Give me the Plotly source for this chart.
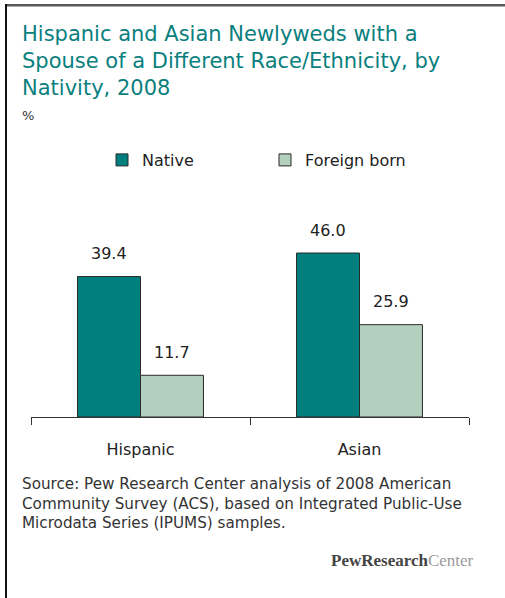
import plotly.graph_objects as go

categories = ["Hispanic", "Asian"]
native = [39.4, 46.0]
foreign_born = [11.7, 25.9]
series_names = ["Native", "Foreign born"]

W, H = 505, 598
L, R, T, B = 31, 469, 140, 417  # plot area pixels
PX_PER_UNIT = 3.565
ymax = (B - T) / PX_PER_UNIT


def px(x):
    return (x - L) / (R - L)


def py(y):
    return (B - y) / (B - T)


TEAL = "#007F7F"
SAGE = "#B3CFBE"
BAR_LINE = "#2a2a2a"
FONT = "DejaVu Sans"

fig = go.Figure()
fig.add_trace(go.Bar(name=series_names[0], x=categories, y=native,
                     marker=dict(color=TEAL, line=dict(color=BAR_LINE, width=1))))
fig.add_trace(go.Bar(name=series_names[1], x=categories, y=foreign_born,
                     marker=dict(color=SAGE, line=dict(color=BAR_LINE, width=1))))

gap = 0.425
bw = (1 - gap) / 2
annotations = []
for i, (a, b) in enumerate(zip(native, foreign_born)):
    for off, v in ((-bw / 2, a), (bw / 2, b)):
        annotations.append(dict(x=i + off, y=v, xref="x", yref="y", text=f"{v:.1f}",
                                showarrow=False, yanchor="middle", yshift=23,
                                font=dict(family=FONT, size=16, color="#222")))

title_lines = ["Hispanic and Asian Newlyweds with a",
               "Spouse of a Different Race/Ethnicity, by",
               "Nativity, 2008"]
for k, line in enumerate(title_lines):
    annotations.append(dict(x=px(20), y=py(34 + 27 * k), xref="paper", yref="paper",
                            text=line, showarrow=False, xanchor="left", yanchor="middle",
                            font=dict(family=FONT, size=21, color="#0A7F7E")))

annotations.append(dict(x=px(20), y=py(115), xref="paper", yref="paper", text="%",
                        showarrow=False, xanchor="left", yanchor="middle",
                        font=dict(family=FONT, size=13, color="#333")))

source_lines = ["Source: Pew Research Center analysis of 2008 American",
                "Community Survey (ACS), based on Integrated Public-Use",
                "Microdata Series (IPUMS) samples."]
for k, line in enumerate(source_lines):
    annotations.append(dict(x=px(20), y=py(484 + 19.5 * k), xref="paper", yref="paper",
                            text=line, showarrow=False, xanchor="left", yanchor="middle",
                            font=dict(family=FONT, size=15.2, color="#333")))

annotations.append(dict(x=px(476), y=py(560), xref="paper", yref="paper",
                        text="<b>PewResearch</b><span style='color:#9a9a9a'>Center</span>",
                        showarrow=False, xanchor="right", yanchor="middle",
                        font=dict(family="Liberation Serif", size=17, color="#444")))

shapes = [
    dict(type="rect", xref="paper", yref="paper", x0=px(5), x1=px(505), y0=py(4), y1=py(6.5),
         fillcolor="#5a5a5a", line=dict(width=0), layer="above"),
    dict(type="rect", xref="paper", yref="paper", x0=px(5), x1=px(7), y0=py(4), y1=py(598),
         fillcolor="#111", line=dict(width=0), layer="above"),
]

fig.update_layout(
    width=W, height=H,
    margin=dict(l=L, r=W - R, t=T, b=H - B, pad=0),
    paper_bgcolor="white", plot_bgcolor="white",
    barmode="group", bargap=gap, bargroupgap=0,
    showlegend=True,
    legend=dict(orientation="h", x=px(102), y=py(160), xanchor="left", yanchor="middle",
                entrywidth=118, entrywidthmode="pixels",
                font=dict(family=FONT, size=16, color="#222"), bgcolor="rgba(0,0,0,0)"),
    xaxis=dict(showline=True, linecolor="#333", linewidth=1, ticks="outside",
               tickson="boundaries", ticklen=7, tickcolor="#333", tickwidth=1,
               ticklabelstandoff=18,
               tickfont=dict(family=FONT, size=16, color="#222"), showgrid=False),
    yaxis=dict(range=[0, ymax], visible=False, showgrid=False, zeroline=False),
    annotations=annotations, shapes=shapes,
    font=dict(family=FONT),
)

fig.write_html("out.html", config={"displayModeBar": False},
               post_script="document.body.style.margin='0';document.body.style.overflow='hidden';")
